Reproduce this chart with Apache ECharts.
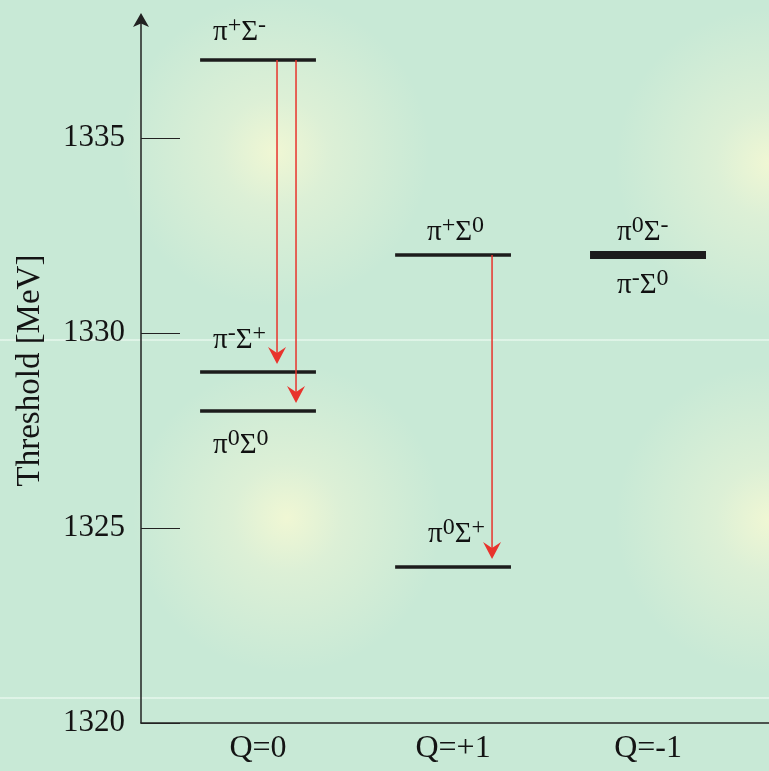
<!DOCTYPE html>
<html>
<head>
<meta charset="utf-8">
<script src="https://cdn.jsdelivr.net/npm/echarts@6/dist/echarts.min.js"></script>
<style>
html, body { margin: 0; padding: 0; }
#bg {
  position: absolute; left: 0; top: 0; width: 769px; height: 771px;
  background:
    linear-gradient(to bottom, transparent 339px, rgba(232,248,238,0.7) 339px, rgba(232,248,238,0.7) 341px, transparent 341px),
    linear-gradient(to bottom, transparent 697px, rgba(232,248,238,0.7) 697px, rgba(232,248,238,0.7) 699px, transparent 699px),
    radial-gradient(circle 155px at 275px 152px, rgba(240,247,212,1) 0%, rgba(234,244,214,0.6) 35%, rgba(234,244,214,0) 100%),
    radial-gradient(circle 155px at 287px 518px, rgba(240,247,212,1) 0%, rgba(234,244,214,0.6) 35%, rgba(234,244,214,0) 100%),
    radial-gradient(circle 155px at 770px 163px, rgba(240,247,212,1) 0%, rgba(234,244,214,0.6) 35%, rgba(234,244,214,0) 100%),
    radial-gradient(circle 155px at 770px 520px, rgba(240,247,212,1) 0%, rgba(234,244,214,0.6) 35%, rgba(234,244,214,0) 100%),
    #c8e9d6;
}
#chart { position: absolute; left: 0; top: 0; width: 769px; height: 771px; }
</style>
</head>
<body>
<div id="bg"></div>
<div id="chart"></div>
<script>
// ---- data ----
const categories = ['Q=0', 'Q=+1', 'Q=-1'];
const yTicks = [1320, 1325, 1330, 1335];
const levelNames = ['π⁺Σ⁻', 'π⁻Σ⁺', 'π⁰Σ⁰', 'π⁺Σ⁰', 'π⁰Σ⁺', 'π⁰Σ⁻', 'π⁻Σ⁰'];
const levelCharge = [0, 0, 0, 1, 1, 2, 2];          // index into categories
const levelValues = [1337, 1329, 1328, 1332, 1324, 1332, 1332]; // MeV
const transitionFrom = [0, 0, 3];
const transitionTo = [1, 2, 4];

// ---- layout (pixel offsets, not data) ----
const labelDx = [-45, -45, -45, -26, -25, -31, -31];      // left edge relative to level centre
const labelBaseDy = [-18, -22, 44, -13, -23, -13, 40];   // baseline relative to level line
const arrowDx = [19, 38, 39];
const halfWidth = 0.297;
const tipGap = 8;

const supMap = { '⁺': '+', '⁻': '-', '⁰': '0' };
function richName(s) {
  let out = '';
  for (const ch of s) {
    if (supMap[ch] !== undefined) out += '{s|' + supMap[ch] + '}';
    else out += '{m|' + ch + '}';
  }
  return out;
}

const serif = '"Liberation Serif", "DejaVu Serif", serif';
const chart = echarts.init(document.getElementById('chart'), null, { renderer: 'canvas' });

const levelData = levelValues.map((v, i) => [levelCharge[i], v, i]);
const arrowData = transitionFrom.map((f, k) => [levelCharge[f], levelValues[f], k]);

chart.setOption({
  backgroundColor: 'transparent',
  animation: false,
  grid: { left: 141, right: 0, top: 18, bottom: 48, containLabel: false },
  xAxis: {
    type: 'value', min: -0.6, max: 2.62,
    splitLine: { show: false },
    axisTick: { show: false },
    axisLine: { show: true, onZero: false, lineStyle: { color: '#222', width: 1.5 } },
    axisLabel: {
      customValues: [0, 1, 2],
      formatter: v => categories[Math.round(v)] || '',
      fontFamily: serif, fontSize: 32, color: '#141414', margin: 10
    }
  },
  yAxis: {
    type: 'value', min: 1320, max: 1338.08, interval: 5,
    name: 'Threshold [MeV]', nameLocation: 'middle', nameRotate: 90, nameGap: 94,
    nameTextStyle: { fontFamily: serif, fontSize: 33, color: '#141414' },
    splitLine: { show: false },
    axisLine: { show: true, onZero: false, symbol: ['none', 'arrow'], symbolSize: [12, 14], symbolOffset: [0, 5], lineStyle: { color: '#222', width: 1.5 } },
    axisTick: { show: true, inside: true, length: 39, customValues: yTicks, lineStyle: { color: '#222', width: 1 } },
    axisLabel: { customValues: yTicks, formatter: v => String(v), fontFamily: serif, fontSize: 31, color: '#141414', margin: 16 }
  },
  series: [
    {
      type: 'custom',
      data: levelData,
      z: 3,
      renderItem: function (params, api) {
        const c = api.value(0), v = api.value(1), i = api.value(2);
        const p1 = api.coord([c - halfWidth, v]);
        const p2 = api.coord([c + halfWidth, v]);
        const ctr = api.coord([c, v]);
        let dup = 0;
        for (let j = 0; j < levelValues.length; j++) {
          if (levelCharge[j] === c && levelValues[j] === v) dup++;
        }
        const lw = dup > 1 ? 8 : 3.5;
        return {
          type: 'group',
          children: [
            { type: 'line', shape: { x1: p1[0], y1: p1[1], x2: p2[0], y2: p2[1] },
              style: { stroke: '#1c1c1c', lineWidth: lw } },
            { type: 'text', x: ctr[0] + labelDx[i], y: ctr[1] + labelBaseDy[i] - 28,
              style: {
                text: richName(levelNames[i]), align: 'left', verticalAlign: 'top',
                fill: '#111',
                rich: {
                  m: { fontFamily: serif, fontSize: 29, lineHeight: 36, fill: '#111' },
                  s: { fontFamily: serif, fontSize: 24, lineHeight: 22, verticalAlign: 'top', fill: '#111' }
                }
              } }
          ]
        };
      }
    },
    {
      type: 'custom',
      data: arrowData,
      z: 4,
      renderItem: function (params, api) {
        const k = api.value(2);
        const f = transitionFrom[k], t = transitionTo[k];
        const c = levelCharge[f];
        const s = api.coord([c, levelValues[f]]);
        const e = api.coord([c, levelValues[t]]);
        const x = s[0] + arrowDx[k];
        const tipY = e[1] - tipGap;
        const col = '#e8332c';
        return {
          type: 'group',
          children: [
            { type: 'line', shape: { x1: x, y1: s[1], x2: x, y2: tipY - 10 },
              style: { stroke: col, lineWidth: 1.5 } },
            { type: 'polygon', shape: { points: [[x, tipY], [x - 9, tipY - 17], [x, tipY - 11], [x + 9, tipY - 17]] },
              style: { fill: col } }
          ]
        };
      }
    }
  ]
});
</script>
</body>
</html>
